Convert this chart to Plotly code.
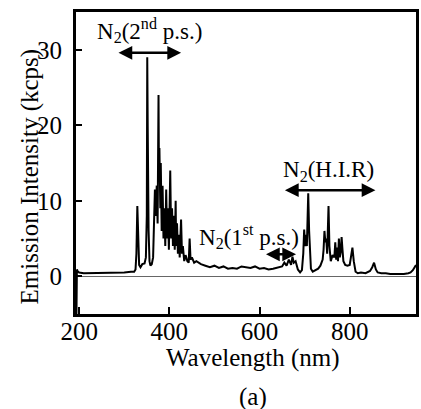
import plotly.graph_objects as go

# Spectrum (wavelength nm, intensity kcps)
wavelength = [194, 195, 197, 200, 210, 220, 240, 260, 280, 300, 315, 322, 325, 327, 329, 331, 333, 336, 340, 345,
              348, 350, 351, 352, 354, 356, 358, 361, 364, 366, 368, 370, 372, 374, 376, 377, 378, 380, 381,
              383, 385, 387, 389, 391, 393, 395, 397, 399, 401, 402, 404, 406, 408, 410, 412, 414, 415, 417,
              419, 421, 423, 425, 426, 428, 430, 433, 436, 440, 443, 445, 447, 450, 455, 460, 470, 480, 490,
              500, 510, 520, 530, 540, 550, 560, 570, 580, 590, 600, 610, 620, 630, 640, 650, 655, 660, 665,
              670, 673, 676, 680, 685, 690, 694, 697, 699, 701, 703, 705, 707, 708, 710, 712, 714, 718, 722,
              726, 730, 735, 740, 742, 744, 746, 748, 750, 752, 753, 755, 758, 762, 766, 768, 770, 772, 774,
              776, 778, 780, 782, 784, 786, 790, 795, 800, 803, 806, 809, 813, 818, 825, 835, 845, 850, 854,
              858, 862, 870, 880, 890, 900, 910, 920, 930, 935, 940, 944, 947]
intensity = [-5.0, 0.9, 0.6, 0.5, 0.4, 0.4, 0.5, 0.4, 0.5, 0.5, 0.6, 0.6, 0.9, 3.0, 9.3, 5.0, 1.5, 1.2, 1.6, 1.7,
             2.5, 8.0, 29.0, 20.0, 6.0, 2.0, 1.4, 1.6, 2.5, 6.0, 11.5, 8.0, 12.0, 7.0, 24.0, 13.0, 17.0, 9.0, 15.0,
             6.0, 12.0, 5.0, 9.0, 4.0, 11.5, 5.0, 9.0, 3.5, 11.0, 14.0, 5.0, 9.0, 4.0, 8.0, 3.5, 10.0, 4.0, 7.0,
             3.0, 5.5, 2.5, 6.0, 7.5, 3.0, 4.0, 2.0, 2.8, 2.0, 1.8, 5.0, 2.2, 2.5, 1.8, 2.0, 1.6, 1.4, 1.2,
             1.4, 1.1, 1.3, 1.0, 1.1, 1.0, 1.3, 1.2, 1.1, 1.3, 1.0, 1.1, 0.9, 1.0, 1.2, 1.3, 1.8, 1.4, 2.2,
             1.5, 2.6, 1.8, 2.0, 0.9, 0.5, 0.8, 3.0, 6.2, 4.0, 5.5, 4.0, 8.0, 11.0, 6.0, 2.5, 1.0, 0.6, 0.7,
             0.8, 1.0, 1.4, 2.2, 3.5, 6.0, 4.5, 5.0, 3.0, 6.5, 9.3, 4.0, 2.0, 2.8, 2.5, 4.5, 2.2, 3.8, 2.0,
             5.0, 2.5, 3.2, 5.2, 3.5, 2.0, 1.5, 1.4, 1.5, 3.0, 3.8, 2.0, 0.6, 0.4, 0.5, 0.4, 0.7, 1.2, 1.8,
             0.9, 0.5, 0.4, 0.4, 0.3, 0.3, 0.3, 0.3, 0.4, 0.5, 0.8, 1.3, 1.5]

x_ticks = [200, 400, 600, 800]
y_ticks = [0, 10, 20, 30]

# Band labels: (text, text_x, text_y, arrow_start, arrow_end, arrow_y)
band_text = ["N<sub>2</sub>(2<sup>nd</sup> p.s.)", "N<sub>2</sub>(1<sup>st</sup> p.s.)", "N<sub>2</sub>(H.I.R)"]
band_text_x = [357, 577, 752]
band_text_y = [32.6, 5.3, 13.9]
band_arrow_start = [284, 611, 653]
band_arrow_end = [426, 681, 857]
band_arrow_y = [29.6, 2.9, 11.4]

FONT = "Liberation Serif"

fig = go.Figure()
fig.add_trace(go.Scatter(x=wavelength, y=intensity, mode="lines",
                         line=dict(color="black", width=2), showlegend=False))

annotations = []
for t, tx, ty, a0, a1, ay in zip(band_text, band_text_x, band_text_y,
                                 band_arrow_start, band_arrow_end, band_arrow_y):
    annotations.append(dict(x=tx, y=ty, xref="x", yref="y", text=t, showarrow=False,
                            font=dict(family=FONT, size=23, color="black")))
    annotations.append(dict(x=a1, y=ay, ax=a0, ay=ay, xref="x", yref="y", axref="x", ayref="y",
                            text="", showarrow=True, arrowhead=2, arrowside="end+start",
                            arrowwidth=2.5, arrowsize=1.1, arrowcolor="black"))

annotations.append(dict(x=0.52, y=-0.146, xref="paper", yref="paper", text="Wavelength (nm)",
                        showarrow=False, font=dict(family=FONT, size=25, color="black"),
                        xanchor="center", yanchor="middle"))
annotations.append(dict(x=0.52, y=-0.274, xref="paper", yref="paper", text="(a)",
                        showarrow=False, font=dict(family=FONT, size=25, color="black"),
                        xanchor="center", yanchor="middle"))
annotations.append(dict(x=-0.134, y=0.457, xref="paper", yref="paper", text="Emission Intensity (kcps)",
                        showarrow=False, textangle=-90, font=dict(family=FONT, size=25, color="black"),
                        xanchor="center", yanchor="middle"))

fig.update_layout(
    width=421, height=409,
    margin=dict(l=76, r=2, t=12, b=95),
    paper_bgcolor="white", plot_bgcolor="white",
    annotations=annotations,
    xaxis=dict(range=[193, 947], tickvals=x_ticks, ticks="inside", ticklen=7, tickwidth=2,
               tickcolor="black", showgrid=False, zeroline=False,
               showline=True, linewidth=3, linecolor="black", mirror=True,
               tickfont=dict(family=FONT, size=25, color="black"), ticklabelstandoff=-7),
    yaxis=dict(range=[-5, 35], tickvals=y_ticks, ticks="inside", ticklen=6, tickwidth=2,
               tickcolor="black", showgrid=False,
               zeroline=True, zerolinecolor="#666", zerolinewidth=1,
               showline=True, linewidth=3, linecolor="black", mirror=True,
               tickfont=dict(family=FONT, size=25, color="black"), ticklabelstandoff=6),
)

fig.write_html("out.html")
